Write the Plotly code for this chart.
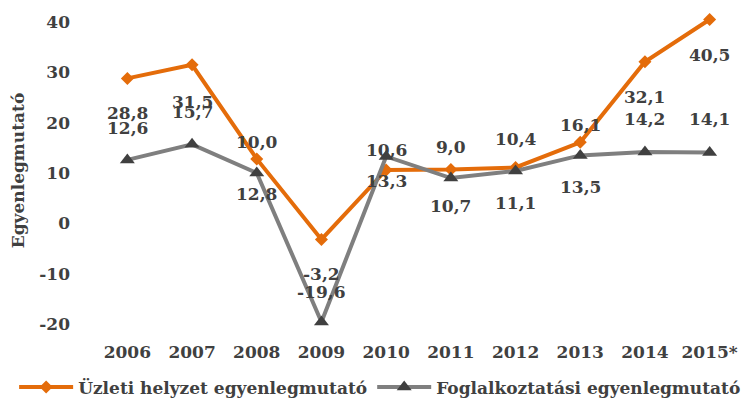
import plotly.graph_objects as go

years = ["2006", "2007", "2008", "2009", "2010", "2011", "2012", "2013", "2014", "2015*"]
uzleti = [28.8, 31.5, 12.8, -3.2, 10.6, 10.7, 11.1, 16.1, 32.1, 40.5]
foglalk = [12.6, 15.7, 10.0, -19.6, 13.3, 9.0, 10.4, 13.5, 14.2, 14.1]
y_ticks = [-20, -10, 0, 10, 20, 30, 40]
y_ticktext = ["-20", "-10", "0", "10", "20", "30", "40"]

name_u = "Üzleti helyzet egyenlegmutató"
name_f = "Foglalkoztatási egyenlegmutató"

# label offsets (px) - style only
shift_u = [-35, -37, -35, -35, 20, -37, -36, 17, -35, -35]
shift_f = [32, 32, 31, 30, -25, 31, 32, -32, 33, 33]

ORANGE = "#E46C0A"
GRAY = "#7F7F7F"
DARK = "#404040"
FONT = "DejaVu Serif"
FS = 17

fig = go.Figure()
fig.add_trace(go.Scatter(
    x=years, y=uzleti, name=name_u, mode="lines+markers",
    line=dict(color=ORANGE, width=4),
    marker=dict(symbol="diamond", size=10, color=ORANGE),
    cliponaxis=False,
))
fig.add_trace(go.Scatter(
    x=years, y=foglalk, name=name_f, mode="lines+markers",
    line=dict(color=GRAY, width=4),
    marker=dict(symbol="triangle-up", size=13, color=DARK),
    cliponaxis=False,
))

def fmt(v):
    return f"{v:.1f}".replace(".", ",")

for ys, shifts in ((uzleti, shift_u), (foglalk, shift_f)):
    for i, (y, s) in enumerate(zip(ys, shifts)):
        fig.add_annotation(
            x=i, y=y, text=fmt(y), showarrow=False, yshift=s,
            font=dict(family=FONT, size=FS, color=DARK, weight="bold"),
        )

fig.update_layout(
    width=755, height=412,
    margin=dict(l=87, r=21, t=9, b=96, autoexpand=False),
    paper_bgcolor="white", plot_bgcolor="white",
    font=dict(family=FONT, size=FS, color=DARK, weight="bold"),
    showlegend=True,
    legend=dict(
        orientation="h", x=-0.125, xanchor="left",
        y=-0.148, yanchor="top",
        font=dict(family=FONT, size=FS, color=DARK, weight="bold"),
        itemwidth=54, traceorder="normal", tracegroupgap=0,
    ),
)
fig.update_xaxes(
    type="category", range=[-0.5, len(years) - 0.5],
    showgrid=False, showline=False, zeroline=False, ticks="",
    ticklabelstandoff=16, automargin=False,
    tickfont=dict(family=FONT, size=FS, color=DARK, weight="bold"),
)
fig.update_yaxes(
    range=[-20, 41], tickvals=y_ticks, ticktext=y_ticktext,
    showgrid=False, showline=False, automargin=False,
    zeroline=False, ticks="", ticklabelstandoff=24,
    tickfont=dict(family=FONT, size=FS, color=DARK, weight="bold"),
    title=dict(text="Egyenlegmutató", standoff=13,
               font=dict(family=FONT, size=FS, color=DARK, weight="bold")),
)

fig.write_html("out.html")
